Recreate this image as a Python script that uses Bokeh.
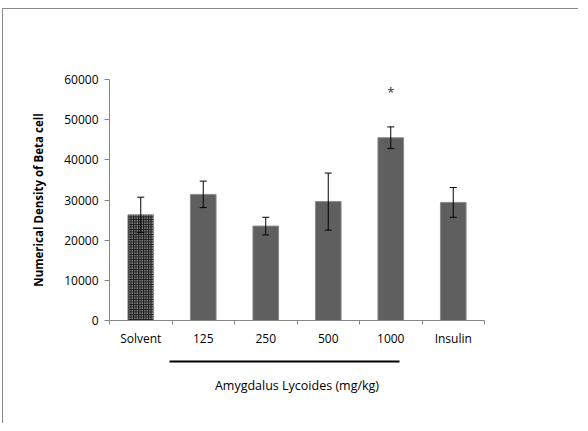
from bokeh.plotting import figure
from bokeh.models import Range1d, FixedTicker, LinearAxis, Whisker, ColumnDataSource
from bokeh.core.properties import value
from bokeh.embed import file_html
from bokeh.resources import INLINE

categories = ["Solvent", "125", "250", "500", "1000", "Insulin"]
means = [26300, 31400, 23500, 29600, 45500, 29400]
errors = [4400, 3300, 2200, 7100, 2700, 3700]
y_ticks = [0, 10000, 20000, 30000, 40000, 50000, 60000]
y_title = "Numerical Density of Beta cell"
star_category = "1000"
star_value = 57000
group_label = "Amygdalus Lycoides (mg/kg)"
group_span = (0.96, 4.64)

xs = [i + 0.5 for i in range(len(categories))]
src = ColumnDataSource(dict(
    x=xs, top=means,
    upper=[m + e for m, e in zip(means, errors)],
    lower=[m - e for m, e in zip(means, errors)],
))

FONT = "Open Sans"
AX = "#868686"

p = figure(width=576, height=415, output_backend="svg", toolbar_location=None,
           x_range=Range1d(0, len(categories)), y_range=Range1d(0, 60000),
           min_border_left=106, min_border_right=95, min_border_top=70,
           min_border_bottom=104, x_axis_location=None, y_axis_location=None)
p.styles = {"border-left": "1px solid #8a8a8a", "border-top": "1px solid #8a8a8a",
            "margin-left": "2px", "margin-top": "8px"}
p.outline_line_color = None
p.xgrid.visible = False
p.ygrid.visible = False

# bars
solv = ColumnDataSource(dict(x=xs[:1], top=means[:1]))
rest = ColumnDataSource(dict(x=xs[1:], top=means[1:]))
p.vbar(x="x", top="top", width=0.41, bottom=0, source=rest,
       fill_color="#5f5f5f", line_color="#8a8a8a", line_width=1)
p.vbar(x="x", top="top", width=0.41, bottom=0, source=solv,
       fill_color="#1a1a1a", line_color="#8a8a8a", line_width=1,
       hatch_pattern="dot", hatch_color="white", hatch_scale=2.5, hatch_weight=1)

w = Whisker(base="x", upper="upper", lower="lower", source=src,
            line_color="black", line_width=1, level="overlay")
w.upper_head.size = 7
w.lower_head.size = 7
w.upper_head.line_color = "black"
w.lower_head.line_color = "black"
p.add_layout(w)

p.text(x=[categories.index(star_category) + 0.5], y=[star_value], text=["*"],
       text_align="center", text_baseline="middle", text_font=value(FONT),
       text_font_size="13px", text_color="#333333")

# y axis
ya = LinearAxis(ticker=FixedTicker(ticks=y_ticks, minor_ticks=[]))
ya.axis_line_color = AX
ya.major_tick_line_color = AX
ya.major_tick_out = 5
ya.major_tick_in = 0
ya.minor_tick_line_color = None
ya.major_label_text_font = FONT
ya.major_label_text_font_size = "12px"
ya.major_label_text_color = "black"
ya.major_label_standoff = 6
p.add_layout(ya, "left")

# y title (separate axis so it can sit slightly above the frame centre)
yt = LinearAxis(ticker=FixedTicker(ticks=[], minor_ticks=[]), bounds=(4700, 60000),
                axis_label=y_title)
yt.axis_line_color = None
yt.major_tick_line_color = None
yt.minor_tick_line_color = None
yt.major_label_text_font_size = "0px"
yt.axis_label_text_font = FONT
yt.axis_label_text_font_size = "11.5px"
yt.axis_label_text_font_style = "bold"
yt.axis_label_text_color = "black"
yt.axis_label_standoff = 16
p.add_layout(yt, "left")

# x axis with category labels at centres and ticks at boundaries
xa = LinearAxis(ticker=FixedTicker(ticks=xs, minor_ticks=list(range(len(categories) + 1))),
                axis_label=" ")
xa.major_label_overrides = {x: c for x, c in zip(xs, categories)}
xa.axis_line_color = AX
xa.major_tick_line_color = None
xa.major_tick_out = 0
xa.major_tick_in = 0
xa.minor_tick_line_color = AX
xa.minor_tick_out = 4
xa.minor_tick_in = 0
xa.major_label_text_font = FONT
xa.major_label_text_font_size = "12px"
xa.major_label_text_color = "black"
xa.major_label_standoff = 5
xa.axis_label_text_font_size = "2px"
xa.axis_label_standoff = 7
p.add_layout(xa, "below")

# group bracket line
ga = LinearAxis(ticker=FixedTicker(ticks=[], minor_ticks=[]), bounds=group_span)
ga.axis_line_color = "black"
ga.axis_line_width = 2
ga.major_tick_line_color = None
ga.minor_tick_line_color = None
ga.major_label_text_font_size = "0px"
p.add_layout(ga, "below")

# group label
la = LinearAxis(ticker=FixedTicker(ticks=[], minor_ticks=[]), bounds=(0, 5),
                axis_label=group_label)
la.axis_line_color = None
la.major_tick_line_color = None
la.minor_tick_line_color = None
la.major_label_text_font_size = "0px"
la.axis_label_text_font = FONT
la.axis_label_text_font_size = "12.5px"
la.axis_label_text_font_style = "normal"
la.axis_label_text_color = "black"
la.axis_label_standoff = 15
p.add_layout(la, "below")

open("out.html", "w").write(file_html(p, INLINE))
